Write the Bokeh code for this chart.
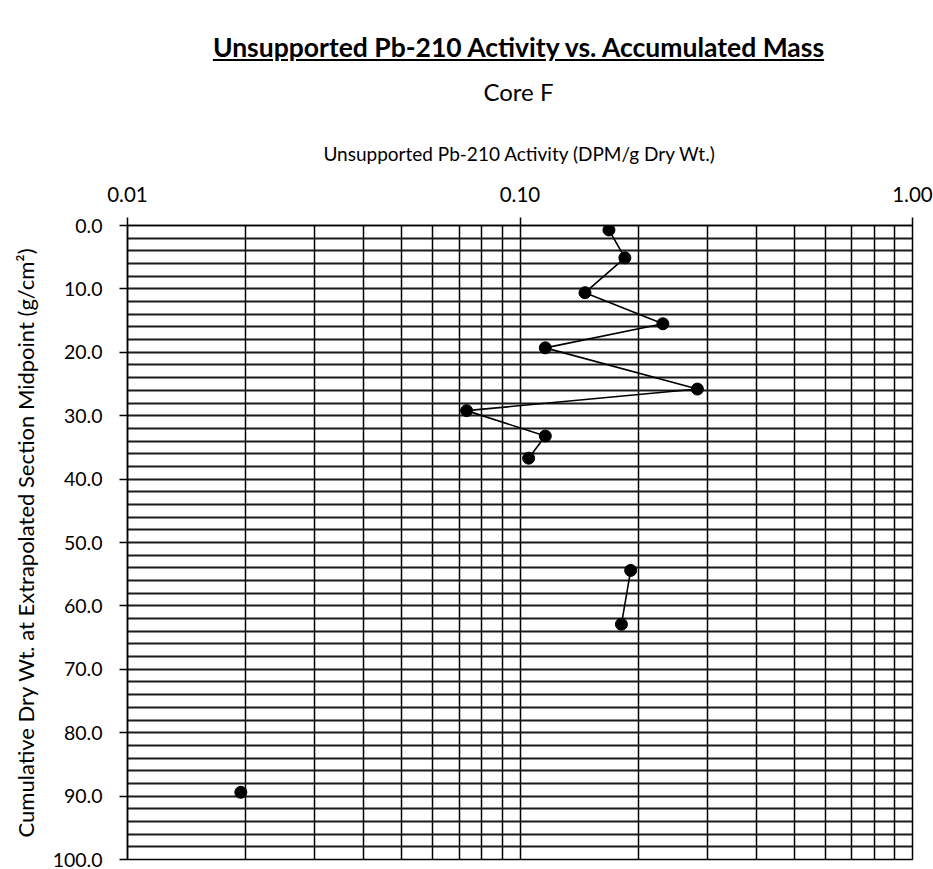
from bokeh.plotting import figure
from bokeh.layouts import column
from bokeh.models import (Div, FixedTicker, PrintfTickFormatter,
                          Range1d, ColumnDataSource)
from bokeh.embed import file_html
from bokeh.resources import INLINE

# Unsupported Pb-210 activity (DPM/g dry wt.) and cumulative dry mass (g/cm2)
# at each section midpoint, Core F.  Runs of consecutive sections are joined.
activity = [0.1685, 0.185, 0.1464, 0.2312, 0.1160, 0.2831, 0.0731, 0.1160, 0.1052,
            0.1914, 0.1813,
            0.01944]
mass = [0.7, 5.1, 10.6, 15.5, 19.3, 25.8, 29.2, 33.2, 36.7,
        54.4, 62.9,
        89.4]
run = [1, 1, 1, 1, 1, 1, 1, 1, 1,
       2, 2,
       3]

chart_title = "Unsupported Pb-210 Activity vs. Accumulated Mass"
core_name = "Core F"
x_ticks = [0.01, 0.1, 1.0]
y_ticks = [0, 10, 20, 30, 40, 50, 60, 70, 80, 90, 100]
y_grid_step = 2

FONT = "Lato"

# heading block: underlined bold title and the core name, centred over the grid
heading = Div(
    text=(f'<div style="font-weight:bold;font-size:26.5px;line-height:32px;'
          f'text-decoration:underline;white-space:nowrap">{chart_title}</div>'
          f'<div style="font-size:24px;line-height:28px;margin-top:15px">{core_name}</div>'),
    width=829, height=75, margin=(31, 0, 0, 104),
    styles={"font-family": FONT, "text-align": "center", "color": "#000000",
            "width": "829px"},
)

p = figure(width=933, height=763, x_axis_type="log", x_axis_location="above",
           x_range=Range1d(0.01, 1.0), y_range=Range1d(100, 0),
           output_backend="svg", toolbar_location=None,
           min_border_left=127, min_border_right=21,
           min_border_top=119, min_border_bottom=10)

# x axis (log, on top)
minor = [m * d for d in (0.01, 0.1) for m in range(2, 10)]
p.xaxis.ticker = FixedTicker(ticks=x_ticks, minor_ticks=minor)
p.xaxis.formatter = PrintfTickFormatter(format="%.2f")
p.xaxis.axis_label = "Unsupported Pb-210 Activity (DPM/g Dry Wt.)"
p.xaxis.axis_label_text_font = FONT
p.xaxis.axis_label_text_font_size = "19px"
p.xaxis.axis_label_text_font_style = "normal"
p.xaxis.axis_label_text_color = "#000000"
p.xaxis.axis_label_standoff = 19
p.xaxis.major_label_text_font = FONT
p.xaxis.major_label_text_font_size = "20.5px"
p.xaxis.major_label_text_color = "#000000"
p.xaxis.major_label_standoff = 16
p.xaxis.major_tick_out = 8
p.xaxis.major_tick_in = 0
p.xaxis.minor_tick_out = 0
p.xaxis.minor_tick_in = 0
p.xaxis.axis_line_color = "#000000"
p.xaxis.axis_line_width = 1.5
p.xaxis.major_tick_line_color = "#000000"
p.xaxis.major_tick_line_width = 1.5

# y axis (reversed)
p.yaxis.ticker = FixedTicker(ticks=y_ticks)
p.yaxis.formatter = PrintfTickFormatter(format="%.1f")
p.yaxis.axis_label = "Cumulative Dry Wt. at Extrapolated Section Midpoint (g/cm\u00b2)"
p.yaxis.axis_label_text_font = FONT
p.yaxis.axis_label_text_font_size = "22px"
p.yaxis.axis_label_text_font_style = "normal"
p.yaxis.axis_label_text_color = "#000000"
p.yaxis.axis_label_standoff = 11
p.yaxis.major_label_text_font = FONT
p.yaxis.major_label_text_font_size = "19.5px"
p.yaxis.major_label_text_color = "#000000"
p.yaxis.major_label_standoff = 17
p.yaxis.major_tick_out = 8
p.yaxis.major_tick_in = 0
p.yaxis.minor_tick_out = 0
p.yaxis.minor_tick_in = 0
p.yaxis.axis_line_color = "#000000"
p.yaxis.axis_line_width = 1.5
p.yaxis.major_tick_line_color = "#000000"
p.yaxis.major_tick_line_width = 1.5

# grid: decade and sub-decade verticals, horizontals every 2 g/cm2
p.xgrid.ticker = FixedTicker(ticks=x_ticks, minor_ticks=minor)
p.xgrid.grid_line_color = "#000000"
p.xgrid.grid_line_width = 1.5
p.xgrid.minor_grid_line_color = "#000000"
p.xgrid.minor_grid_line_width = 1.5
p.ygrid.ticker = FixedTicker(ticks=list(range(0, 101, y_grid_step)))
p.ygrid.grid_line_color = "#1a1a1a"
p.ygrid.grid_line_width = 1.8

p.outline_line_color = "#000000"
p.outline_line_width = 1.5
p.background_fill_color = "#ffffff"
p.border_fill_color = "#ffffff"

# connecting lines, one per run of consecutive sections
xs, ys = [], []
for r in sorted(set(run)):
    idx = [i for i, v in enumerate(run) if v == r]
    if len(idx) > 1:
        xs.append([activity[i] for i in idx])
        ys.append([mass[i] for i in idx])
p.multi_line(xs, ys, line_color="#000000", line_width=1.6)

src = ColumnDataSource(dict(x=activity, y=mass))
p.scatter("x", "y", source=src, size=12, fill_color="#000000",
          line_color="#000000")

layout = column(heading, p, spacing=0)
open("out.html", "w").write(file_html(layout, INLINE))
